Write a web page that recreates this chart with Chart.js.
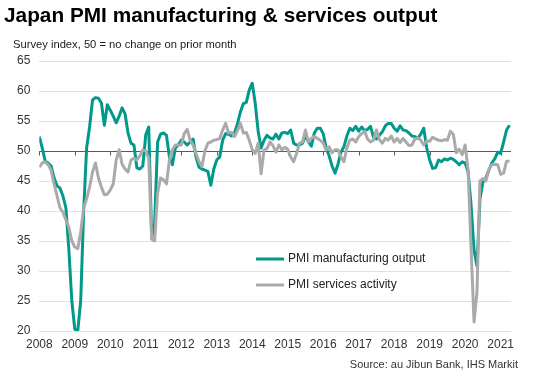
<!DOCTYPE html>
<html>
<head>
<meta charset="utf-8">
<script src="https://cdn.jsdelivr.net/npm/chart.js@4.4.1/dist/chart.umd.min.js"></script>
<style>
html,body{margin:0;padding:0;background:#fff;}
#wrap{position:relative;width:538px;height:382px;font-family:Arial,"Liberation Sans",sans-serif;}
#title{position:absolute;left:4px;top:3px;font-size:20.8px;font-weight:bold;color:#000;white-space:nowrap;}
#sub{position:absolute;left:13px;top:38px;font-size:11.2px;color:#1a1a1a;white-space:nowrap;}
#source{position:absolute;right:20px;top:358px;font-size:11px;color:#333;white-space:nowrap;}
canvas{position:absolute;left:0;top:0;}
</style>
</head>
<body>
<div id="wrap">
<canvas id="chart" width="538" height="382"></canvas>
<div id="title">Japan PMI manufacturing &amp; services output</div>
<div id="sub">Survey index, 50 = no change on prior month</div>
<div id="source">Source: au Jibun Bank, IHS Markit</div>
</div>
<script>

/* monthly data, Jan 2008 - Apr 2021 */

const years = ["2008","2009","2010","2011","2012","2013","2014","2015","2016","2017","2018","2019","2020","2021"];

const manufacturing = [
52.4,50.5,48.3,48.0,47.5,45.5,44.2,43.8,42.5,40.5,33.5,25.0,
20.3,20.0,25.0,40.0,50.5,54.0,58.5,58.9,58.8,58.0,54.3,57.7,
56.8,55.8,54.7,55.8,57.2,56.2,53.0,51.3,51.0,47.2,47.0,47.5,
52.7,54.0,35.5,38.0,51.5,52.8,53.0,52.6,49.0,47.7,50.5,51.0,
51.8,51.5,51.0,51.5,52.0,49.0,47.3,47.0,46.8,46.6,44.3,47.0,
48.5,49.0,51.8,52.9,52.8,52.5,53.0,54.5,56.5,57.9,58.1,60.2,
61.3,58.0,53.3,50.5,51.8,52.6,52.2,52.0,52.8,52.0,53.0,53.1,
52.9,53.5,51.3,51.0,51.0,51.3,52.6,51.5,50.8,53.0,53.8,53.8,
52.9,50.5,49.2,47.5,46.3,47.8,49.8,50.7,52.5,53.8,53.4,54.1,
53.3,54.0,53.4,53.6,54.1,52.3,52.0,52.6,53.2,54.2,54.6,54.6,
53.8,53.3,54.2,53.5,53.4,53.0,52.5,52.4,52.1,52.8,53.8,50.5,
48.5,47.1,47.2,48.5,48.2,48.7,48.5,48.8,48.6,48.2,47.7,48.2,
48.0,46.5,41.0,33.5,30.8,42.0,44.8,45.5,46.8,48.0,48.7,49.8,
49.6,51.5,53.5,54.3
];

const services = [
47.3,48.0,48.2,47.7,46.8,44.5,42.5,40.5,39.8,38.5,37.3,35.0,
34.0,33.7,36.5,40.5,42.0,44.0,46.5,48.0,45.5,44.0,42.7,42.8,
43.5,44.5,48.5,50.2,47.8,47.0,46.5,48.5,48.8,48.5,49.2,50.2,
50.0,48.8,35.3,35.0,43.0,45.5,45.2,44.5,48.5,50.2,51.0,51.0,
51.0,52.9,53.6,51.8,51.0,49.6,48.2,47.4,50.0,51.3,51.5,51.8,
51.9,52.1,53.5,54.6,53.0,53.1,52.4,53.4,54.6,53.0,53.1,51.8,
50.2,49.6,51.3,46.2,50.2,50.4,51.5,50.9,49.8,51.0,50.2,50.6,
50.3,49.0,48.2,49.6,51.3,51.5,53.5,51.5,52.1,52.4,52.1,51.8,
51.3,50.2,50.7,49.7,50.2,50.2,49.0,48.2,50.5,51.8,52.0,51.5,
52.4,52.9,53.3,52.0,51.5,51.8,53.5,51.9,51.3,52.1,51.8,52.5,
51.5,52.1,51.4,52.1,51.5,50.9,51.0,52.0,52.2,51.8,51.0,51.7,
51.6,52.3,52.0,51.8,51.7,51.9,51.8,53.3,52.8,49.7,50.3,49.4,
51.0,46.8,33.8,21.5,26.5,45.0,45.4,45.0,46.9,47.7,47.8,47.7,
46.1,46.3,48.3,48.3
];

const seriesNames = ["PMI manufacturing output","PMI services activity"];
const colors = ["#00998a","#aaaaaa"];

const toPoints = arr => arr.map((v,i) => ({x:i, y:v}));


/* 50 line with year tick marks */

const baseLine = {
id:"baseLine",
beforeDatasetsDraw(chart){
const {ctx, chartArea, scales} = chart;
const y = Math.round(scales.y.getPixelForValue(50)) + 0.5;
ctx.save();
ctx.strokeStyle = "#595959";
ctx.lineWidth = 1;
ctx.beginPath();
ctx.moveTo(chartArea.left, y);
ctx.lineTo(chartArea.right, y);
years.forEach((yr,k) => {
const x = Math.round(scales.x.getPixelForValue(k*12)) + 0.5;
ctx.moveTo(x, y);
ctx.lineTo(x, y + 4);
});
ctx.stroke();
ctx.restore();
}
};


/* legend inside the plot */

const innerLegend = {
id:"innerLegend",
afterDraw(chart){
const ctx = chart.ctx;
ctx.save();
ctx.font = "12px Arial, 'Liberation Sans', sans-serif";
ctx.textBaseline = "middle";
chart.data.datasets.forEach((ds,k) => {
const y = 259 + k*26;
ctx.strokeStyle = ds.borderColor;
ctx.lineWidth = 3;
ctx.beginPath();
ctx.moveTo(256, y);
ctx.lineTo(284, y);
ctx.stroke();
ctx.fillStyle = "#222";
ctx.fillText(ds.label, 288, y);
});
ctx.restore();
}
};


new Chart(document.getElementById("chart"),{

type:"line",

data:{
datasets:[{
label:seriesNames[0],
data:toPoints(manufacturing),
borderColor:colors[0],
backgroundColor:colors[0],
borderWidth:3,
order:1
},{
label:seriesNames[1],
data:toPoints(services),
borderColor:colors[1],
backgroundColor:colors[1],
borderWidth:3,
order:0
}]
},

options:{
responsive:false,
animation:false,
devicePixelRatio:1,
layout:{padding:{top:61, right:27, left:0, bottom:0}},
elements:{
point:{radius:0},
line:{tension:0, borderJoinStyle:"round"}
},
plugins:{
legend:{display:false},
tooltip:{enabled:false}
},
scales:{
x:{
type:"linear",
min:0,
max:159.5,
grid:{display:false, drawTicks:false},
border:{display:false},
ticks:{
stepSize:12,
includeBounds:false,
autoSkip:false,
maxRotation:0,
padding:6,
color:"#333",
font:{family:"Arial, 'Liberation Sans', sans-serif", size:12},
callback:v => years[v/12] || ""
},
afterFit:s => { s.height = 51; }
},
y:{
min:20,
max:65,
grid:{color:"#e0e0e0", drawTicks:false},
border:{display:false},
ticks:{
stepSize:5,
padding:9,
color:"#333",
font:{family:"Arial, 'Liberation Sans', sans-serif", size:12}
},
afterFit:s => { s.width = 39.3; }
}
}
},

plugins:[baseLine, innerLegend]

});

</script>
</body>
</html>
